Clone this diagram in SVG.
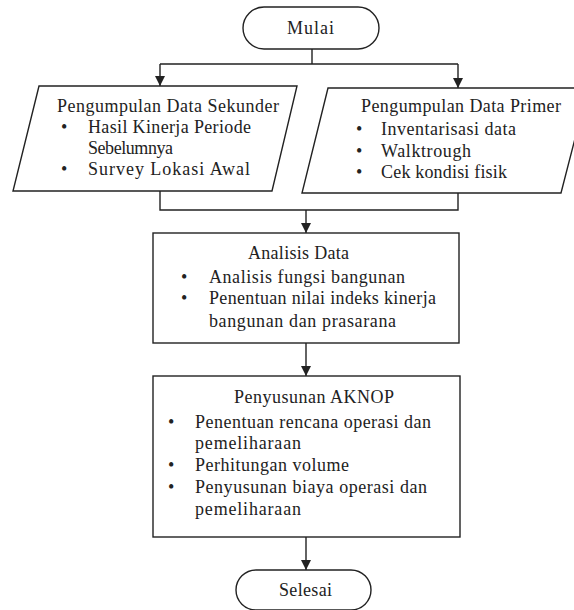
<svg xmlns="http://www.w3.org/2000/svg" width="574" height="610" viewBox="0 0 574 610">
<style>
.s{fill:#fff;stroke:#222;stroke-width:1.4}
.c{fill:none;stroke:#222;stroke-width:1.4}
.t text{font-family:'Liberation Serif','DejaVu Serif',serif;font-size:18px;fill:#222}
</style>
<defs>
<marker id="a" viewBox="0 0 10 10" refX="10" refY="5" markerWidth="10" markerHeight="10" markerUnits="userSpaceOnUse" orient="auto">
<path d="M0,0 L10,5 L0,10 z" fill="#222"/>
</marker>
</defs>
<rect width="574" height="610" fill="#fff"/>
<g id="connectors">
<path class="c" d="M312,49 V64 M160,64 H458"/>
<path class="c" d="M160,64 V86" marker-end="url(#a)"/>
<path class="c" d="M458,64 V88" marker-end="url(#a)"/>
<path class="c" d="M160,191 V210 H458 V193"/>
<path class="c" d="M306,210 V233" marker-end="url(#a)"/>
<path class="c" d="M306,343 V376" marker-end="url(#a)"/>
<path class="c" d="M306,537 V570" marker-end="url(#a)"/>
</g>
<g class="t" font-family="Liberation Serif, DejaVu Serif, serif">
<g id="mulai">
<rect class="s" x="243" y="7" width="136" height="42" rx="21"/>
<text x="287" y="34" textLength="47">Mulai</text>
</g>
<g id="sekunder">
<polygon class="s" points="39,86 297,86 272,191 13,191"/>
<text x="57" y="112" textLength="222">Pengumpulan Data Sekunder</text>
<text x="61" y="133">•</text>
<text x="88" y="133" textLength="163">Hasil Kinerja Periode</text>
<text x="88" y="154" textLength="85">Sebelumnya</text>
<text x="61" y="175">•</text>
<text x="88" y="175" textLength="162">Survey Lokasi Awal</text>
</g>
<g id="primer">
<polygon class="s" points="328,88 588,88 561,193 302,193"/>
<text x="361" y="112" textLength="200">Pengumpulan Data Primer</text>
<text x="356" y="135">•</text>
<text x="381" y="135" textLength="135">Inventarisasi data</text>
<text x="356" y="157">•</text>
<text x="381" y="157" textLength="90">Walktrough</text>
<text x="356" y="178">•</text>
<text x="381" y="178" textLength="126">Cek kondisi fisik</text>
</g>
<g id="analisis">
<rect class="s" x="153" y="233" width="306" height="110"/>
<text x="248" y="259" textLength="101">Analisis Data</text>
<text x="181" y="283">•</text>
<text x="209" y="283" textLength="196">Analisis fungsi bangunan</text>
<text x="181" y="304">•</text>
<text x="209" y="304" textLength="227">Penentuan nilai indeks kinerja</text>
<text x="209" y="327" textLength="187">bangunan dan prasarana</text>
</g>
<g id="aknop">
<rect class="s" x="153" y="376" width="307" height="161"/>
<text x="234" y="403" textLength="160">Penyusunan AKNOP</text>
<text x="168" y="428">•</text>
<text x="195" y="428" textLength="236">Penentuan rencana operasi dan</text>
<text x="195" y="449" textLength="106">pemeliharaan</text>
<text x="168" y="471">•</text>
<text x="195" y="471" textLength="154">Perhitungan volume</text>
<text x="168" y="493">•</text>
<text x="195" y="493" textLength="232">Penyusunan biaya operasi dan</text>
<text x="195" y="515" textLength="106">pemeliharaan</text>
</g>
<g id="selesai">
<rect class="s" x="236" y="570" width="135" height="40" rx="20"/>
<text x="279" y="596" textLength="53">Selesai</text>
</g>
</g>
</svg>
